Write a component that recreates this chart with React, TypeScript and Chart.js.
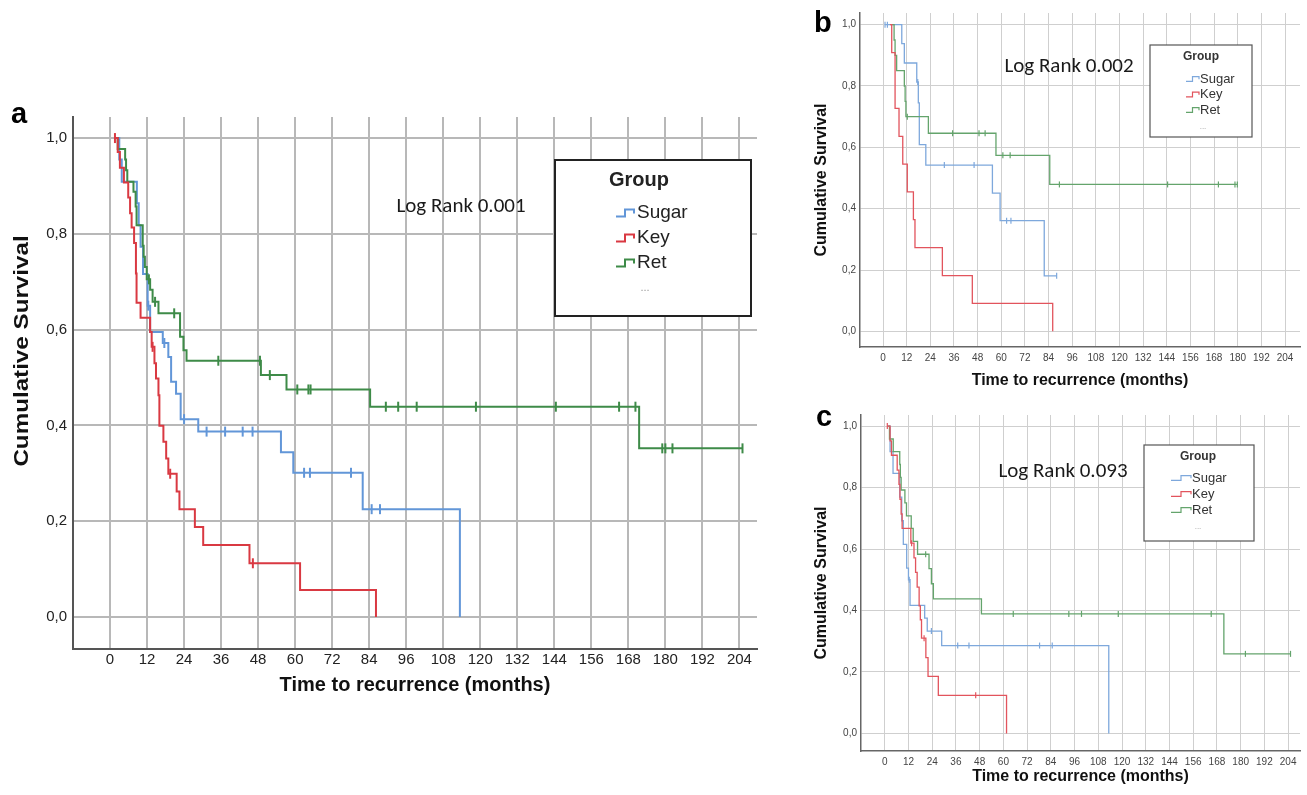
import React, { useEffect, useRef } from "react";
import { Chart, registerables } from "chart.js";

Chart.register(...registerables);

// ---------- shared labels / ticks ----------
const groupNames = ["Sugar", "Key", "Ret"];
const xTickValues = [0, 12, 24, 36, 48, 60, 72, 84, 96, 108, 120, 132, 144, 156, 168, 180, 192, 204];
const yTickValues = [0, 0.2, 0.4, 0.6, 0.8, 1.0];
const xAxisTitle = "Time to recurrence (months)";
const yAxisTitle = "Cumulative Survival";
const legendTitle = "Group";
const legendMore = "...";
const panelLetters = ["a", "b", "c"];
const logRankTexts = ["Log Rank 0.001", "Log Rank 0.002", "Log Rank 0.093"];

// ---------- panel a ----------
const aSugarTimes = [1.6, 3.0, 3.8, 8.7, 9.3, 9.9, 10.7, 12.2, 13.0, 17.1, 18.9, 19.8, 21.4, 22.9, 28.6, 55.4, 59.4, 81.9, 113.4];
const aSugarSurv = [1.0, 0.955, 0.909, 0.864, 0.818, 0.773, 0.716, 0.65, 0.595, 0.572, 0.543, 0.491, 0.466, 0.413, 0.387, 0.344, 0.301, 0.225, 0.0];
const aSugarCens = [12.4, 17.6, 24.0, 31.3, 37.3, 43.0, 46.2, 62.9, 64.8, 78.1, 84.8, 87.5];

const aKeyTimes = [1.6, 2.5, 3.2, 4.5, 5.9, 6.5, 7.0, 7.8, 8.4, 8.6, 9.9, 13.0, 13.5, 14.4, 14.9, 15.7, 16.0, 17.3, 18.2, 18.9, 21.6, 22.5, 27.5, 30.2, 45.2, 61.6, 86.2];
const aKeySurv = [1.0, 0.971, 0.938, 0.907, 0.876, 0.843, 0.813, 0.781, 0.717, 0.656, 0.625, 0.595, 0.564, 0.53, 0.498, 0.463, 0.399, 0.366, 0.331, 0.299, 0.262, 0.225, 0.188, 0.15, 0.112, 0.056, 0.0];
const aKeyCens = [1.6, 13.8, 19.5, 46.3];

const aRetTimes = [1.6, 2.5, 4.9, 5.2, 5.6, 7.6, 8.3, 8.6, 10.6, 10.9, 11.3, 11.9, 13.0, 13.8, 15.7, 22.7, 23.8, 24.8, 48.9, 57.2, 84.3, 171.5];
const aRetSurv = [1.0, 0.977, 0.955, 0.933, 0.909, 0.888, 0.857, 0.818, 0.775, 0.752, 0.731, 0.705, 0.683, 0.658, 0.634, 0.585, 0.557, 0.535, 0.505, 0.475, 0.439, 0.352];
const aRetCens = [12.6, 14.6, 20.8, 35.1, 48.6, 51.8, 60.7, 64.3, 65.0, 89.4, 93.4, 99.4, 118.6, 144.5, 165.0, 170.3, 179.0, 180.0, 182.3, 205.0];

// ---------- panel b ----------
const bSugarTimes = [1.0, 9.5, 10.8, 17.1, 17.9, 18.4, 21.7, 55.5, 59.4, 81.8];
const bSugarSurv = [1.0, 0.938, 0.875, 0.813, 0.745, 0.609, 0.542, 0.451, 0.361, 0.181];
const bSugarCens = [1.0, 2.2, 17.6, 31.1, 46.2, 62.7, 64.9, 88.1];

const bKeyTimes = [3.5, 4.4, 6.1, 8.1, 10.0, 12.3, 15.4, 16.2, 30.1, 45.3, 86.1];
const bKeySurv = [1.0, 0.909, 0.727, 0.636, 0.545, 0.455, 0.364, 0.273, 0.182, 0.091, 0.0];
const bKeyCens: number[] = [];

const bRetTimes = [4.5, 5.6, 6.1, 6.9, 10.8, 11.2, 11.6, 23.0, 57.3, 84.6];
const bRetSurv = [1.0, 0.95, 0.9, 0.85, 0.8, 0.75, 0.7, 0.646, 0.574, 0.479];
const bRetCens = [12.3, 35.3, 48.7, 51.8, 60.8, 64.5, 89.5, 144.4, 170.2, 178.6, 179.8];

// ---------- panel c ----------
const cSugarTimes = [1.5, 2.7, 4.2, 7.6, 8.6, 9.4, 11.1, 12.0, 12.8, 20.2, 21.5, 28.8, 113.3];
const cSugarSurv = [1.0, 0.917, 0.846, 0.769, 0.692, 0.615, 0.538, 0.5, 0.417, 0.375, 0.333, 0.286, 0.0];
const cSugarCens = [12.4, 23.6, 36.9, 42.6, 78.3, 84.7];

const cKeyTimes = [1.3, 2.7, 3.4, 6.3, 7.2, 7.7, 8.3, 8.8, 13.2, 14.8, 15.6, 16.4, 17.4, 18.0, 18.6, 20.8, 21.9, 27.1, 61.6];
const cKeySurv = [1.0, 0.952, 0.905, 0.857, 0.81, 0.762, 0.714, 0.667, 0.619, 0.571, 0.524, 0.476, 0.415, 0.37, 0.31, 0.247, 0.186, 0.124, 0.0];
const cKeyCens = [1.3, 13.6, 19.9, 46.0];

const cRetTimes = [1.8, 2.4, 4.3, 7.6, 7.9, 8.3, 10.2, 11.0, 13.4, 14.4, 16.6, 22.4, 23.6, 24.6, 48.9, 171.5];
const cRetSurv = [1.0, 0.958, 0.917, 0.875, 0.833, 0.792, 0.75, 0.708, 0.667, 0.625, 0.583, 0.536, 0.487, 0.438, 0.389, 0.259];
const cRetCens = [20.7, 65.0, 93.1, 99.5, 118.1, 165.1, 182.4, 205.2];

// ---------- helpers ----------
const SANS = "'Liberation Sans', Arial, Helvetica, sans-serif";
const CALIBRI = "Carlito, Calibri, Lato, 'Open Sans', sans-serif";

type Series = { times: number[]; surv: number[]; cens: number[] };

function survAt(s: Series, t: number) {
  let v = s.surv[0];
  for (let k = 0; k < s.times.length; k++) {
    if (s.times[k] <= t) v = s.surv[k];
  }
  return v;
}

const fmtY = (v: number) => Number(v).toFixed(1).replace(".", ",");

type Panel = {
  left: number; top: number; w: number; h: number;
  padTop: number; padRight: number; yW: number; xH: number;
  xMin: number; xMax: number; yMin: number; yMax: number;
  series: Series[]; colors: string[];
  lineW: number; censR: number; censW: number;
  gridColor: string; gridW: number; axisColor: string; axisW: number;
  yTickFont: any; yTickPad: number; xTickFont: any; xTickPad: number; tickColor: string;
  xTitleFont: any; xTitlePad: number; yTitleFont: any; yTitlePad: number;
  yTitleCustom?: { x: number; y: number; size: number; stretch: number };
  logText: string; logX: number; logY: number; logSize: number;
  legend: any;
};

function extrasPlugin(p: Panel) {
  return {
    id: "kmExtras",
    afterDraw(chart: any) {
      const ctx = chart.ctx as CanvasRenderingContext2D;
      const L = p.legend;
      ctx.save();
      // stretched y-axis title (panel a image is vertically stretched)
      if (p.yTitleCustom) {
        const T = p.yTitleCustom;
        ctx.save();
        ctx.translate(T.x, T.y);
        ctx.rotate(-Math.PI / 2);
        ctx.scale(T.stretch, 1);
        ctx.fillStyle = "#111";
        ctx.font = `bold ${T.size}px ${SANS}`;
        ctx.textAlign = "center";
        ctx.textBaseline = "middle";
        ctx.fillText(yAxisTitle, 0, 0);
        ctx.restore();
      }
      // log rank text
      ctx.fillStyle = "#1a1a1a";
      ctx.font = `${p.logSize}px ${CALIBRI}`;
      ctx.textAlign = "center";
      ctx.textBaseline = "middle";
      ctx.fillText(p.logText, p.logX, p.logY);
      // legend box
      ctx.fillStyle = "#ffffff";
      ctx.fillRect(L.x, L.y, L.w, L.h);
      ctx.strokeStyle = L.border;
      ctx.lineWidth = L.borderW;
      ctx.strokeRect(L.x, L.y, L.w, L.h);
      ctx.fillStyle = L.text;
      ctx.font = `bold ${L.titleSize}px ${SANS}`;
      ctx.fillText(legendTitle, L.x + L.titleDx, L.y + L.titleDy);
      ctx.font = `${L.itemSize}px ${SANS}`;
      ctx.textAlign = "left";
      groupNames.forEach((name, i) => {
        const cy = L.y + L.itemDy + i * L.itemStep;
        const x0 = L.x + L.iconDx;
        const w = L.iconW;
        const hh = L.iconH;
        ctx.strokeStyle = p.colors[i];
        ctx.lineWidth = L.iconLw;
        ctx.beginPath();
        ctx.moveTo(x0, cy + hh * 0.35);
        ctx.lineTo(x0 + w * 0.5, cy + hh * 0.35);
        ctx.lineTo(x0 + w * 0.5, cy - hh * 0.35);
        ctx.lineTo(x0 + w, cy - hh * 0.35);
        ctx.lineTo(x0 + w, cy + hh * 0.05);
        ctx.stroke();
        ctx.fillStyle = L.text;
        ctx.fillText(name, L.x + L.labelDx, cy);
      });
      ctx.fillStyle = "#9a9a9a";
      ctx.font = `${L.dotsSize}px ${SANS}`;
      ctx.textAlign = "center";
      ctx.fillText(legendMore, L.x + L.dotsDx, L.y + L.dotsDy);
      ctx.restore();
    },
  };
}

function buildConfig(p: Panel): any {
  const datasets: any[] = [];
  const drawOrder = [2, 0, 1];
  p.series.forEach((s, i) => {
    const pts = s.times.map((t, k) => ({ x: t, y: s.surv[k] }));
    const lastT = s.times[s.times.length - 1];
    const maxC = s.cens.length ? Math.max(...s.cens) : -Infinity;
    if (maxC > lastT) pts.push({ x: maxC, y: s.surv[s.surv.length - 1] });
    datasets.push({
      label: groupNames[i],
      data: pts,
      borderColor: p.colors[i],
      borderWidth: p.lineW,
      stepped: "before",
      pointRadius: 0,
      fill: false,
      order: drawOrder[i],
    });
    datasets.push({
      label: groupNames[i] + " censored",
      data: s.cens.map((t) => ({ x: t, y: survAt(s, t) })),
      showLine: false,
      pointStyle: "line",
      rotation: 90,
      pointRadius: p.censR,
      pointBorderWidth: p.censW,
      pointBorderColor: p.colors[i],
      borderColor: p.colors[i],
      order: drawOrder[i],
    });
  });

  return {
    type: "line",
    data: { datasets },
    plugins: [extrasPlugin(p)],
    options: {
      animation: false,
      responsive: false,
      devicePixelRatio: 1,
      layout: { padding: { top: p.padTop, right: p.padRight, left: 0, bottom: 0 } },
      plugins: { legend: { display: false }, tooltip: { enabled: false }, title: { display: false } },
      scales: {
        x: {
          type: "linear",
          min: p.xMin,
          max: p.xMax,
          afterBuildTicks: (sc: any) => {
            sc.ticks = xTickValues.map((v) => ({ value: v }));
          },
          afterFit: (sc: any) => {
            sc.height = p.xH;
          },
          ticks: {
            autoSkip: false,
            maxRotation: 0,
            font: p.xTickFont,
            color: p.tickColor,
            padding: p.xTickPad,
            callback: (v: any) => String(v),
          },
          grid: { color: p.gridColor, lineWidth: p.gridW, drawTicks: false },
          border: { color: p.axisColor, width: p.axisW },
          title: {
            display: true,
            text: xAxisTitle,
            font: p.xTitleFont,
            color: "#111",
            padding: { top: 0, bottom: p.xTitlePad },
          },
        },
        y: {
          type: "linear",
          min: p.yMin,
          max: p.yMax,
          afterBuildTicks: (sc: any) => {
            sc.ticks = yTickValues.map((v) => ({ value: v }));
          },
          afterFit: (sc: any) => {
            sc.width = p.yW;
          },
          ticks: {
            font: p.yTickFont,
            color: p.tickColor,
            padding: p.yTickPad,
            callback: (v: any) => fmtY(v),
          },
          grid: { color: p.gridColor, lineWidth: p.gridW, drawTicks: false },
          border: { color: p.axisColor, width: p.axisW },
          title: {
            display: !p.yTitleCustom,
            text: yAxisTitle,
            font: p.yTitleFont,
            color: "#111",
            padding: { top: p.yTitlePad, bottom: 0 },
          },
        },
      },
    },
  };
}

const colorsA = ["#6296d8", "#d93942", "#3e8b48"];
const colorsBC = ["#7ea8dc", "#e2545d", "#64a46c"];

const panels: Panel[] = [
  {
    left: 0, top: 100, w: 790, h: 620,
    padTop: 17, padRight: 33, yW: 73, xH: 71,
    xMin: -12, xMax: 209.7, yMin: -0.067, yMax: 1.044,
    series: [
      { times: aSugarTimes, surv: aSugarSurv, cens: aSugarCens },
      { times: aKeyTimes, surv: aKeySurv, cens: aKeyCens },
      { times: aRetTimes, surv: aRetSurv, cens: aRetCens },
    ],
    colors: colorsA,
    lineW: 2, censR: 5, censW: 2,
    gridColor: "#b8b8b8", gridW: 2, axisColor: "#555", axisW: 2,
    yTickFont: { family: SANS, size: 15 }, yTickPad: 6,
    xTickFont: { family: SANS, size: 15 }, xTickPad: 2, tickColor: "#222",
    xTitleFont: { family: SANS, size: 20, weight: "bold" }, xTitlePad: 23,
    yTitleFont: { family: SANS, size: 21, weight: "bold" }, yTitlePad: 9.4,
    yTitleCustom: { x: 22, y: 251, size: 20.5, stretch: 1.18 },
    logText: logRankTexts[0], logX: 461, logY: 107, logSize: 21,
    legend: {
      x: 555, y: 60, w: 196, h: 156, border: "#222", borderW: 2, text: "#222",
      titleSize: 20, titleDx: 84, titleDy: 20,
      itemSize: 19, itemDy: 53, itemStep: 25, iconDx: 61, iconW: 18, iconH: 10, iconLw: 2, labelDx: 82,
      dotsSize: 11, dotsDx: 90, dotsDy: 128,
    },
  },
  {
    left: 800, top: 0, w: 507, h: 400,
    padTop: 13, padRight: 7, yW: 60, xH: 53,
    xMin: -11.7, xMax: 211.6, yMin: -0.051, yMax: 1.038,
    series: [
      { times: bSugarTimes, surv: bSugarSurv, cens: bSugarCens },
      { times: bKeyTimes, surv: bKeySurv, cens: bKeyCens },
      { times: bRetTimes, surv: bRetSurv, cens: bRetCens },
    ],
    colors: colorsBC,
    lineW: 1.3, censR: 3, censW: 1.2,
    gridColor: "#cfcfcf", gridW: 1, axisColor: "#666", axisW: 1.5,
    yTickFont: { family: SANS, size: 10 }, yTickPad: 4,
    xTickFont: { family: SANS, size: 10 }, xTickPad: 5, tickColor: "#444",
    xTitleFont: { family: SANS, size: 16, weight: "bold" }, xTitlePad: 9.4,
    yTitleFont: { family: SANS, size: 16, weight: "bold" }, yTitlePad: 12.4,
    logText: logRankTexts[1], logX: 269, logY: 67, logSize: 21,
    legend: {
      x: 350, y: 45, w: 102, h: 92, border: "#555", borderW: 1.2, text: "#333",
      titleSize: 12, titleDx: 51, titleDy: 12,
      itemSize: 13, itemDy: 34, itemStep: 15.5, iconDx: 36, iconW: 13, iconH: 7, iconLw: 1.2, labelDx: 50,
      dotsSize: 8, dotsDx: 53, dotsDy: 82,
    },
  },
  {
    left: 800, top: 400, w: 507, h: 395,
    padTop: 15, padRight: 7, yW: 61, xH: 44,
    xMin: -12, xMax: 210, yMin: -0.057, yMax: 1.036,
    series: [
      { times: cSugarTimes, surv: cSugarSurv, cens: cSugarCens },
      { times: cKeyTimes, surv: cKeySurv, cens: cKeyCens },
      { times: cRetTimes, surv: cRetSurv, cens: cRetCens },
    ],
    colors: colorsBC,
    lineW: 1.3, censR: 3, censW: 1.2,
    gridColor: "#cfcfcf", gridW: 1, axisColor: "#666", axisW: 1.5,
    yTickFont: { family: SANS, size: 10 }, yTickPad: 4,
    xTickFont: { family: SANS, size: 10 }, xTickPad: 5, tickColor: "#444",
    xTitleFont: { family: SANS, size: 16, weight: "bold" }, xTitlePad: 8.4,
    yTitleFont: { family: SANS, size: 16, weight: "bold" }, yTitlePad: 12.4,
    logText: logRankTexts[2], logX: 263, logY: 72, logSize: 21,
    legend: {
      x: 344, y: 45, w: 110, h: 96, border: "#555", borderW: 1.2, text: "#333",
      titleSize: 12, titleDx: 54, titleDy: 12,
      itemSize: 13, itemDy: 33, itemStep: 16, iconDx: 27, iconW: 20, iconH: 7, iconLw: 1.2, labelDx: 48,
      dotsSize: 8, dotsDx: 54, dotsDy: 82,
    },
  },
];

function ChartPanel({ p }: { p: Panel }) {
  const ref = useRef<HTMLCanvasElement | null>(null);
  useEffect(() => {
    if (!ref.current) return;
    const chart = new Chart(ref.current, buildConfig(p));
    return () => chart.destroy();
  }, [p]);
  return (
    <canvas
      ref={ref}
      width={p.w}
      height={p.h}
      style={{ position: "absolute", left: p.left, top: p.top, width: p.w, height: p.h }}
    />
  );
}

const letterPos = [
  { left: 11, top: 99, size: 29 },
  { left: 814, top: 8, size: 29 },
  { left: 816, top: 402, size: 29 },
];

export default function App() {
  return (
    <div style={{ position: "absolute", left: 0, top: 0, width: 1307, height: 795, background: "#fff", overflow: "hidden" }}>
      {panels.map((p, i) => (
        <ChartPanel key={i} p={p} />
      ))}
      {panelLetters.map((t, i) => (
        <div
          key={t}
          style={{
            position: "absolute",
            left: letterPos[i].left,
            top: letterPos[i].top,
            fontFamily: SANS,
            fontWeight: "bold",
            fontSize: letterPos[i].size,
            lineHeight: `${letterPos[i].size}px`,
            color: "#000",
          }}
        >
          {t}
        </div>
      ))}
    </div>
  );
}
